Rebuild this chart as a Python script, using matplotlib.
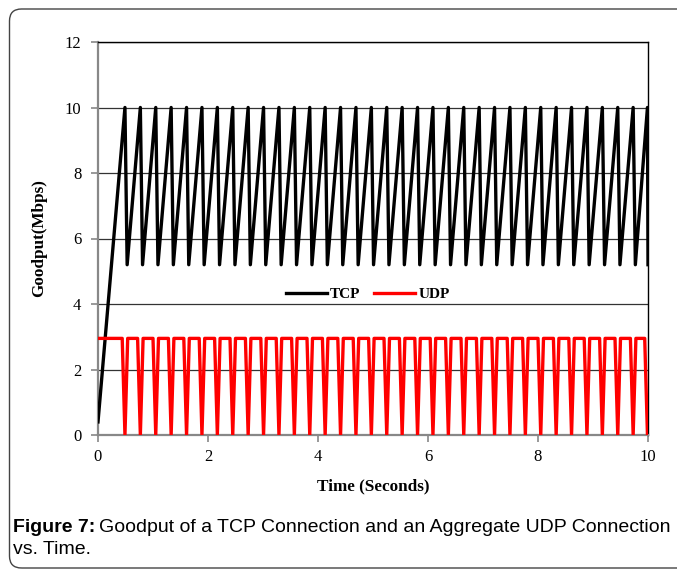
import matplotlib
matplotlib.use("Agg")
import matplotlib.pyplot as plt
from matplotlib.patches import FancyBboxPatch
import numpy as np

# ---- data ----
tcp_start_time = 0.0
tcp_start_value = 0.4
tcp_peak_value = 10.0
tcp_trough_value = 5.2
peak_times = [0.49, 0.77, 1.05, 1.33, 1.61, 1.89, 2.17, 2.45, 2.73, 3.01,
              3.29, 3.57, 3.85, 4.13, 4.41, 4.69, 4.97, 5.25, 5.53, 5.81,
              6.09, 6.37, 6.65, 6.93, 7.21, 7.49, 7.77, 8.05, 8.33, 8.61,
              8.89, 9.17, 9.45, 9.73, 9.99]
tcp_drop_delay = 0.04
udp_high_value = 2.95
udp_low_value = 0.0
udp_dip_half_width = 0.05
x_end = 10.0

x_ticks = [0, 2, 4, 6, 8, 10]
y_ticks = [0, 2, 4, 6, 8, 10, 12]

# ---- build series from the read values ----
tcp_t = [tcp_start_time]
tcp_v = [tcp_start_value]
for p in peak_times:
    tcp_t += [p, min(p + tcp_drop_delay, x_end)]
    tcp_v += [tcp_peak_value, tcp_trough_value]

udp_t = [0.0]
udp_v = [udp_high_value]
for p in peak_times:
    udp_t += [p - udp_dip_half_width, p, min(p + udp_dip_half_width, x_end)]
    udp_v += [udp_high_value, udp_low_value,
              udp_high_value if p + udp_dip_half_width <= x_end else udp_low_value]
if peak_times[-1] + udp_dip_half_width > x_end:
    udp_t[-1] = x_end
    udp_v[-1] = udp_low_value

W, H = 677, 572
fig = plt.figure(figsize=(W / 100, H / 100), dpi=100)
ax = fig.add_axes([98 / W, (H - 435) / H, (648 - 98) / W, (435 - 42) / H])

serif = "Liberation Serif"

ax.plot(tcp_t, tcp_v, color="black", lw=2.4, solid_joinstyle="round", label="TCP", zorder=3)
ax.plot(udp_t, udp_v, color="#ff0000", lw=2.4, solid_joinstyle="round", label="UDP", zorder=3)

ax.set_xlim(0, 10)
ax.set_ylim(0, 12)
ax.set_xticks(x_ticks)
ax.set_yticks(y_ticks)
ax.yaxis.grid(True, color="#333333", lw=0.9)
ax.set_axisbelow(True)

for s in ["top", "right"]:
    ax.spines[s].set_color("black")
    ax.spines[s].set_linewidth(1.0)
for s in ["left", "bottom"]:
    ax.spines[s].set_color("#888888")
    ax.spines[s].set_linewidth(1.6)

ax.tick_params(axis="both", direction="out", length=5, width=1.2, color="#888888",
               labelsize=12, pad=5)
for lab in ax.get_xticklabels() + ax.get_yticklabels():
    lab.set_family(serif)
ax.tick_params(axis="y", pad=7)

ax.set_xlabel("Time (Seconds)", family=serif, fontweight="bold", fontsize=12.3, labelpad=10)
ax.set_ylabel("Goodput(Mbps)", family=serif, fontweight="bold", fontsize=12.3, labelpad=13)

leg = ax.legend(loc="center", bbox_to_anchor=(0.49, 0.358), ncol=2, frameon=False,
                prop={"family": serif, "weight": "bold", "size": 11},
                handlelength=2.7, handletextpad=0.2, columnspacing=0.9)

# outer rounded frame (open on the right, as cropped)
box = FancyBboxPatch((0.095, 0.04), 7.2, 5.59,
                     boxstyle="round,pad=0,rounding_size=0.12",
                     transform=fig.dpi_scale_trans, facecolor="none",
                     edgecolor="#444444", lw=1.0)
fig.patches.append(box)

# caption
fig.canvas.draw()
r = fig.canvas.get_renderer()
t1 = fig.text(13 / W, (H - 527) / H, "Figure 7:", family="Liberation Sans",
              fontweight="bold", fontsize=14, va="center", ha="left")
bb = t1.get_window_extent(renderer=r)
fig.text(bb.x1 / W + 4 / W, (H - 527) / H,
         "Goodput of a TCP Connection and an Aggregate UDP Connection",
         family="Liberation Sans", fontsize=14, va="center", ha="left")
fig.text(13 / W, (H - 549) / H, "vs. Time.", family="Liberation Sans",
         fontsize=14, va="center", ha="left")

fig.savefig("out.png", dpi=100)
